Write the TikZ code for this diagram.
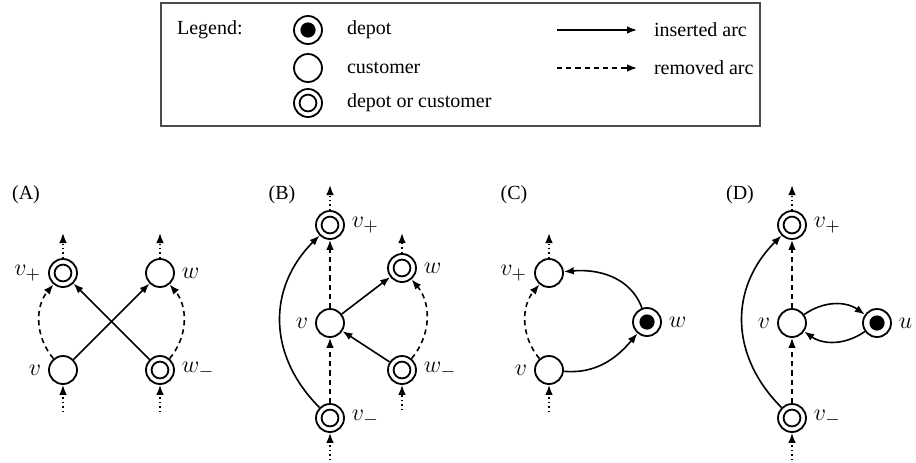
\documentclass[tikz,border=0pt]{standalone}
\usepackage{fontspec}
\setmainfont{Liberation Serif}
\usetikzlibrary{arrows.meta}
\begin{document}
\begin{tikzpicture}[x=0.5pt,y=-0.5pt,label distance=0pt,
  every label/.style={font=\fontsize{12.5}{14}\selectfont},
  cust/.style={circle,draw,line width=0.9pt,minimum size=14pt,inner sep=0pt},
  dc/.style={cust,path picture={\draw[line width=0.9pt] (path picture bounding box.center) circle (4.2pt);}},
  depot/.style={cust,path picture={\fill (path picture bounding box.center) circle (3.8pt);}},
  ins/.style={-{Latex[length=5pt,width=3.8pt]},line width=0.8pt},
  rem/.style={ins,dash pattern=on 2.6pt off 2pt},
  stub/.style={ins,dash pattern=on 0.7pt off 1.5pt}]
  \useasboundingbox (0,0) rectangle (916,462);
  % legend
  \draw[draw=black!70,line width=0.8pt] (161,3) rectangle (760,126);
  \node[right] (leg) at (170,30) {Legend:};
  \node[depot] (ldep) at (308,30) {};
  \node[cust] (lcus) at (308,68) {};
  \node[dc] (ldc) at (308,103) {};
  \node[right] (ldept) at (340,30) {depot};
  \node[right] (lcust) at (340,68) {customer};
  \node[right] (ldct) at (340,103) {depot or customer};
  \coordinate (li1) at (557,30);
  \coordinate (li2) at (637,30);
  \coordinate (lr1) at (557,68);
  \coordinate (lr2) at (637,68);
  \draw[ins] (li1) -- (li2);
  \draw[rem] (lr1) -- (lr2);
  \node[right] (linst) at (647,30) {inserted arc};
  \node[right] (lremt) at (647,68) {removed arc};
  % (A)
  \node (pa) at (26,195) {(A)};
  \node[dc,label=left:$v_+$] (avp) at (63,273) {};
  \node[cust,label=right:$w$] (aw) at (160,273) {};
  \node[cust,label=left:$v$] (av) at (63,370) {};
  \node[dc,label=right:$w_-$] (awm) at (160,370) {};
  \coordinate (avpt) at (63,233);
  \coordinate (awt) at (160,233);
  \coordinate (avb) at (63,412);
  \coordinate (awmb) at (160,412);
  \draw[stub] (avp) -- (avpt);
  \draw[stub] (aw) -- (awt);
  \draw[stub] (avb) -- (av);
  \draw[stub] (awmb) -- (awm);
  \draw[rem] (av) to[bend left=40] (avp);
  \draw[rem] (awm) to[bend right=40] (aw);
  \draw[ins] (av) -- (aw);
  \draw[ins] (awm) -- (avp);
  % (B)
  \node (pb) at (282,195) {(B)};
  \node[dc,label=right:$v_+$] (bvp) at (330,225) {};
  \node[dc,label=right:$w$] (bw) at (402,268) {};
  \node[cust,label=left:$v$] (bv) at (330,323) {};
  \node[dc,label=right:$w_-$] (bwm) at (402,370) {};
  \node[dc,label=right:$v_-$] (bvm) at (330,418) {};
  \coordinate (bvpt) at (330,185);
  \coordinate (bwt) at (402,233);
  \coordinate (bwmb) at (402,410);
  \coordinate (bvmb) at (330,460);
  \draw[stub] (bvp) -- (bvpt);
  \draw[stub] (bw) -- (bwt);
  \draw[stub] (bwmb) -- (bwm);
  \draw[stub] (bvmb) -- (bvm);
  \draw[rem] (bvm) -- (bv);
  \draw[rem] (bv) -- (bvp);
  \draw[ins] (bvm) to[out=135,in=225,looseness=1.1] (bvp);
  \draw[ins] (bv) -- (bw);
  \draw[ins] (bwm) -- (bv);
  \draw[rem] (bwm) to[bend right=40] (bw);
  % (C)
  \node (pc) at (514,195) {(C)};
  \node[cust,label=left:$v_+$] (cvp) at (549,273) {};
  \node[depot,label=right:$w$] (cw) at (647,322) {};
  \node[cust,label=left:$v$] (cv) at (549,370) {};
  \coordinate (cvpt) at (549,233);
  \coordinate (cvb) at (549,412);
  \draw[stub] (cvp) -- (cvpt);
  \draw[stub] (cvb) -- (cv);
  \draw[rem] (cv) to[bend left=40] (cvp);
  \draw[ins] (cw) to[out=110,in=5] (cvp);
  \draw[ins] (cv) to[out=-5,in=230] (cw);
  % (D)
  \node (pd) at (740,195) {(D)};
  \node[dc,label=right:$v_+$] (dvp) at (792,225) {};
  \node[cust,label=left:$v$] (dv) at (792,323) {};
  \node[depot,label=right:$u$] (du) at (877,323) {};
  \node[dc,label=right:$v_-$] (dvm) at (792,418) {};
  \coordinate (dvpt) at (792,185);
  \coordinate (dvmb) at (792,460);
  \draw[stub] (dvp) -- (dvpt);
  \draw[stub] (dvmb) -- (dvm);
  \draw[rem] (dvm) -- (dv);
  \draw[rem] (dv) -- (dvp);
  \draw[ins] (dvm) to[out=135,in=225,looseness=1.1] (dvp);
  \draw[ins] (dv) to[bend left=35] (du);
  \draw[ins] (du) to[bend left=35] (dv);
\end{tikzpicture}
\end{document}
